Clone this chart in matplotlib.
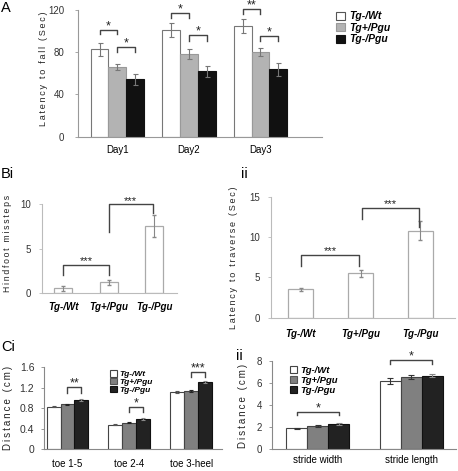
import numpy as np
import matplotlib
matplotlib.use("Agg")
import matplotlib.pyplot as plt
from matplotlib.patches import Patch

plt.rcParams['font.family'] = ['Liberation Sans', 'DejaVu Sans']
plt.rcParams['font.size'] = 7

# data
genotypes = ['Tg-/Wt', 'Tg+/Pgu', 'Tg-/Pgu']

days = ['Day1', 'Day2', 'Day3']
a_wt = [83, 101, 105]
a_wt_err = [6.2, 6.6, 6.6]
a_tgp = [65.7, 78, 80]
a_tgp_err = [3, 4.7, 4]
a_tgm = [54.3, 62, 63.8]
a_tgm_err = [5, 5, 6.3]

bi_vals = [0.55, 1.22, 7.55]
bi_err = [0.25, 0.3, 1.25]

bii_vals = [3.5, 5.5, 10.8]
bii_err = [0.23, 0.4, 1.15]

toes = ['toe 1-5', 'toe 2-4', 'toe 3-heel']
ci_wt = [0.83, 0.48, 1.11]
ci_wt_err = [0.01, 0.01, 0.02]
ci_tgp = [0.88, 0.52, 1.14]
ci_tgp_err = [0.01, 0.01, 0.015]
ci_tgm = [0.96, 0.59, 1.31]
ci_tgm_err = [0.02, 0.015, 0.02]

strides = ['stride width', 'stride length']
cii_wt = [1.9, 6.2]
cii_wt_err = [0.04, 0.25]
cii_tgp = [2.07, 6.55]
cii_tgp_err = [0.08, 0.2]
cii_tgm = [2.25, 6.68]
cii_tgm_err = [0.1, 0.12]

# significance brackets: (x1, x2, y bar, left leg end, right leg end, label)
a_brackets = [((0, 0), (0, 1), 101, 97, 97, '*'), ((0, 1), (0, 2), 85, 80.5, 80.5, '*'),
              ((1, 0), (1, 1), 117, 112, 112, '*'), ((1, 1), (1, 2), 96, 91, 91, '*'),
              ((2, 0), (2, 1), 121, 116, 116, '**'), ((2, 1), (2, 2), 95.3, 91, 91, '*')]
bi_brackets = [(0, 1, 3.18, 2.0, 2.0, '***'), (1, 2, 10, 6.9, 9.0, '***')]
bii_brackets = [(0, 1, 7.75, 6.4, 6.4, '***'), (1, 2, 13.6, 12.25, 11.3, '***')]
ci_brackets = [((0, 1), (0, 2), 1.21, 1.10, 1.10, '**'), ((1, 1), (1, 2), 0.83, 0.73, 0.73, '*'),
               ((2, 1), (2, 2), 1.51, 1.42, 1.42, '***')]
cii_brackets = [((0, 0), (0, 2), 3.38, 3.07, 3.07, '*'), ((1, 0), (1, 2), 8.1, 7.7, 7.7, '*')]

W, H = 458, 471
fig = plt.figure(figsize=(W / 100, H / 100), dpi=100)


def add_ax(l, r, t, b):
    return fig.add_axes([l / W, 1 - b / H, (r - l) / W, (b - t) / H])


def style(ax, spine='#999999'):
    for s in ['top', 'right']:
        ax.spines[s].set_visible(False)
    for s in ['left', 'bottom']:
        ax.spines[s].set_color(spine)
        ax.spines[s].set_linewidth(0.8)
    ax.tick_params(axis='y', length=2, width=0.6, color=spine, pad=6, labelsize=7, labelcolor='#333333')
    ax.tick_params(axis='x', length=0, pad=6, labelsize=7)


def ylab(s, px, py, fs):
    # letter-spaced vertical label, placed by its centre in pixels
    fig.text(px / W, 1 - py / H, '\u2009'.join(s), rotation=90, ha='center', va='center',
             fontsize=fs, color='#222222')


def bracket(ax, x1, x2, y, l1, l2, label, fs=9):
    ax.plot([x1, x1, x2, x2], [l1, y, y, l2], color='#444444', lw=1.0, clip_on=False)
    ax.annotate(label, ((x1 + x2) / 2, y), xytext=(0, 0.5), textcoords='offset points',
                ha='center', va='baseline', fontsize=fs, color='#222222', annotation_clip=False)


def grouped(ax, series, errs, colors, edges, ecols, width, cap):
    x = np.arange(len(series[0]))
    offs = (np.arange(len(series)) - (len(series) - 1) / 2) * width
    for vals, err, c, e, ec, o in zip(series, errs, colors, edges, ecols, offs):
        ax.bar(x + o, vals, width, color=c, edgecolor=e, linewidth=0.8,
               yerr=err, ecolor=ec, capsize=cap, error_kw={'elinewidth': 0.8, 'capthick': 0.8})
    return x, offs


# ---- Panel A
ax = add_ax(78, 322, 10, 136.7)
x, offs = grouped(ax, [a_wt, a_tgp, a_tgm], [a_wt_err, a_tgp_err, a_tgm_err],
                  ['white', '#b3b3b3', '#111111'], ['#777777', '#999999', '#111111'],
                  ['#777777'] * 3, 0.249, 1.8)
ax.set_xlim(-0.55, 2.86)
ax.set_ylim(0, 120)
ax.set_yticks([0, 40, 80, 120])
ax.set_xticks(x)
ax.set_xticklabels(days)
style(ax)
ax.tick_params(axis='y', pad=8)
ylab('Latency to fall (Sec)', 43, 68.5, 6.5)
for (g1, b1), (g2, b2), y, l1, l2, lab in a_brackets:
    bracket(ax, x[g1] + offs[b1], x[g2] + offs[b2], y, l1, l2, lab)
handles = [Patch(facecolor=c, edgecolor=e, linewidth=0.8) for c, e in
           zip(['white', '#b3b3b3', '#111111'], ['#555555', '#999999', '#111111'])]
fig.legend(handles, genotypes, loc='upper left', bbox_to_anchor=(327 / W, 1 - 2 / H),
           frameon=False, handlelength=0.8, handleheight=0.8, handletextpad=0.4,
           labelspacing=0.15, prop={'weight': 'bold', 'style': 'italic', 'size': 7.5})

# ---- Panel Bi
ax = add_ax(41.7, 177, 204.3, 293.3)
xb = np.arange(3)
ax.bar(xb, bi_vals, 0.4, color='white', edgecolor='#aaaaaa', linewidth=0.9,
       yerr=bi_err, ecolor='#888888', capsize=1.2, error_kw={'elinewidth': 0.8})
ax.set_xlim(-0.47, 2.5)
ax.set_ylim(0, 10)
ax.set_yticks([0, 5, 10])
ax.set_xticks(xb)
ax.set_xticklabels(genotypes, fontweight='bold', fontstyle='italic', fontsize=6.5)
style(ax, '#bbbbbb')
ylab('Hindfoot missteps', 8, 243.5, 6.2)
for x1, x2, y, l1, l2, lab in bi_brackets:
    bracket(ax, xb[x1], xb[x2] - (0.03 if x1 == 1 else 0), y, l1, l2, lab, fs=8)

# ---- Panel Bii
ax = add_ax(271, 455, 196.7, 317.7)
ax.bar(xb, bii_vals, 0.42, color='white', edgecolor='#aaaaaa', linewidth=0.9,
       yerr=bii_err, ecolor='#888888', capsize=1.2, error_kw={'elinewidth': 0.8})
ax.set_xlim(-0.5, 2.58)
ax.set_ylim(0, 15)
ax.set_yticks([0, 5, 10, 15])
ax.set_xticks(xb)
ax.set_xticklabels(genotypes, fontweight='bold', fontstyle='italic', fontsize=6.5)
style(ax, '#bbbbbb')
ax.tick_params(axis='x', pad=8)
ylab('Latency to traverse (Sec)', 233.5, 257.5, 6.5)
for x1, x2, y, l1, l2, lab in bii_brackets:
    bracket(ax, xb[x1] + (0.02 if x1 == 1 else 0), xb[x2] - 0.02, y, l1, l2, lab, fs=8)

# ---- Panel Ci
ax = add_ax(44, 222, 367.3, 449.3)
x, offs = grouped(ax, [ci_wt, ci_tgp, ci_tgm], [ci_wt_err, ci_tgp_err, ci_tgm_err],
                  ['white', '#808080', '#222222'], ['#444444', '#444444', '#111111'],
                  ['#555555', '#222222', '#888888'], 0.225, 1.5)
ax.set_xlim(-0.38, 2.5)
ax.set_ylim(0, 1.6)
ax.set_yticks([0, 0.4, 0.8, 1.2, 1.6])
ax.set_yticklabels(['0', '0.4', '0.8', '1.2', '1.6'])
ax.set_xticks(x)
ax.set_xticklabels(toes, fontsize=7.5)
style(ax, '#888888')
ax.tick_params(axis='y', pad=5, labelsize=7.5)
ax.tick_params(axis='x', pad=7)
ylab('Distance (cm)', 8, 408, 7)
for (g1, b1), (g2, b2), y, l1, l2, lab in ci_brackets:
    bracket(ax, x[g1] + offs[b1], x[g2] + offs[b2], y, l1, l2, lab)
handles = [Patch(facecolor=c, edgecolor=e, linewidth=0.8) for c, e in
           zip(['white', '#808080', '#222222'], ['#444444', '#555555', '#111111'])]
ax.legend(handles, genotypes, loc='upper left', bbox_to_anchor=(106 / W, 1 - 366 / H),
          bbox_transform=fig.transFigure, frameon=False, handlelength=0.8, handleheight=0.8,
          handletextpad=0.3, labelspacing=-0.05, borderpad=0.0,
          prop={'weight': 'bold', 'style': 'italic', 'size': 6.0})

# ---- Panel Cii
ax = add_ax(272, 456, 361, 449)
x, offs = grouped(ax, [cii_wt, cii_tgp, cii_tgm], [cii_wt_err, cii_tgp_err, cii_tgm_err],
                  ['white', '#808080', '#222222'], ['#444444', '#444444', '#111111'],
                  ['#333333', '#333333', '#888888'], 0.226, 2)
ax.set_xlim(-0.49, 1.48)
ax.set_ylim(0, 8)
ax.set_yticks([0, 2, 4, 6, 8])
ax.set_xticks(x)
ax.set_xticklabels(strides, fontsize=7.5)
style(ax, '#888888')
ax.tick_params(axis='y', pad=5, labelsize=7)
ax.tick_params(axis='x', pad=4)
ylab('Distance (cm)', 242.5, 405.5, 7)
for (g1, b1), (g2, b2), y, l1, l2, lab in cii_brackets:
    bracket(ax, x[g1] + offs[b1], x[g2] + offs[b2], y, l1, l2, lab)
ax.legend(handles, genotypes, loc='upper left', bbox_to_anchor=(285 / W, 1 - 361 / H),
          bbox_transform=fig.transFigure, frameon=False, handlelength=0.8, handleheight=0.8,
          handletextpad=0.3, labelspacing=0.1, borderpad=0.0,
          prop={'weight': 'bold', 'style': 'italic', 'size': 6.8})

# panel letters
for s, px, py in [('A', 1, 1), ('Bi', 1, 167), ('ii', 241, 167), ('Ci', 1, 340), ('ii', 236, 349)]:
    fig.text(px / W, 1 - py / H, s, fontsize=10.5, va='top', ha='left')

fig.savefig('out.png', dpi=100)
